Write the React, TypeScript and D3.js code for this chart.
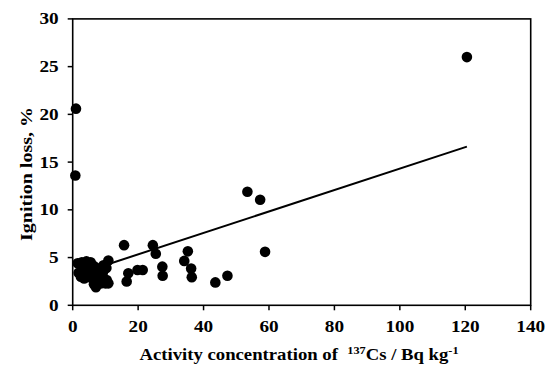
import React from "react";
import * as d3 from "d3";

const xValues = [120.5, 1.0, 0.8, 53.4, 57.3, 58.8, 24.5, 25.4, 35.2, 34.1, 27.4, 27.5, 36.2, 36.4, 43.6, 47.3, 15.7, 17.0, 16.5, 19.8, 21.4, 10.9, 9.4, 10.4, 10.9, 1.5, 2.8, 4.2, 5.5, 6.5, 1.8, 3.0, 4.0, 4.6, 3.5, 5.5, 6.2, 7.3, 7.5, 8.2, 6.5, 7.1, 8.7, 9.2, 10.0, 10.3, 2.5, 5.0];
const yValues = [26.0, 20.6, 13.6, 11.9, 11.05, 5.6, 6.3, 5.4, 5.65, 4.65, 4.05, 3.1, 3.85, 2.95, 2.4, 3.1, 6.3, 3.35, 2.5, 3.7, 3.7, 4.7, 4.2, 2.65, 2.3, 4.4, 4.5, 4.6, 4.5, 4.1, 3.4, 3.6, 3.9, 3.2, 2.8, 2.9, 3.5, 3.9, 2.6, 3.1, 2.2, 1.9, 2.3, 3.4, 2.3, 3.9, 3.0, 3.6];
const xTicks = [0, 20, 40, 60, 80, 100, 120, 140];
const yTicks = [0, 5, 10, 15, 20, 25, 30];
const trendSlope = 0.1123;
const trendIntercept = 3.09;

export default function App() {
  const W = 559, H = 365;
  const x = d3.scaleLinear().domain([0, 140]).range([72.7, 530.7]);
  const y = d3.scaleLinear().domain([0, 30]).range([305.3, 18.9]);
  const xMin = d3.min(xValues) as number;
  const xMax = d3.max(xValues) as number;
  const line = d3.line<number>().x((d) => x(d)).y((d) => y(trendIntercept + trendSlope * d));
  const font = "'Liberation Serif', 'Times New Roman', serif";
  const tickSx = 1.2;
  return (
    <svg width={W} height={H} style={{ position: "absolute", left: 0, top: 0, background: "#fff" }} fontFamily={font}>
      <rect x={x(0)} y={y(30)} width={x(140) - x(0)} height={y(0) - y(30)} fill="none" stroke="#000" strokeWidth={1.6} />
      {xTicks.map((t) => (
        <g key={"x" + t}>
          <line x1={x(t)} x2={x(t)} y1={y(0)} y2={y(0) + 5} stroke="#000" strokeWidth={1.5} />
          <text transform={`translate(${x(t)},${y(0) + 27}) scale(${tickSx},1)`} textAnchor="middle" fontSize={16} fontWeight="bold">{t}</text>
        </g>
      ))}
      {yTicks.map((t) => (
        <g key={"y" + t}>
          <line x1={x(0) - 5} x2={x(0)} y1={y(t)} y2={y(t)} stroke="#000" strokeWidth={1.5} />
          <text transform={`translate(${x(0) - 14},${y(t) + 5.5}) scale(${tickSx},1)`} textAnchor="end" fontSize={16} fontWeight="bold">{t}</text>
        </g>
      ))}
      <path d={line([xMin, xMax]) || ""} fill="none" stroke="#000" strokeWidth={2} />
      {xValues.map((v, i) => (
        <circle key={i} cx={x(v)} cy={y(yValues[i])} r={5.3} fill="#000" />
      ))}
      <text transform={`translate(299,360) scale(1.17,1)`} textAnchor="middle" fontSize={16} fontWeight="bold">
        Activity concentration of{"\u00a0\u00a0"}
        <tspan fontSize={10.5} dy={-6}>137</tspan>
        <tspan dy={6}>Cs / Bq kg</tspan>
        <tspan fontSize={10.5} dy={-6}>-1</tspan>
      </text>
      <text transform={`translate(32, 174) rotate(-90) scale(1.25,1)`} textAnchor="middle" fontSize={16} fontWeight="bold">Ignition loss, %</text>
    </svg>
  );
}
